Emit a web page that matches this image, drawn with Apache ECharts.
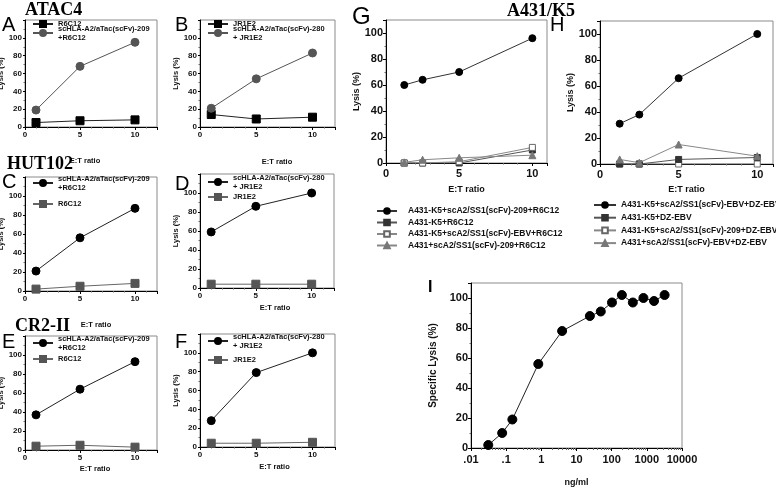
<!DOCTYPE html>
<html><head><meta charset="utf-8">
<script src="https://cdn.jsdelivr.net/npm/echarts@6/dist/echarts.min.js"></script>
<style>html,body{margin:0;padding:0;background:#fff}#c{width:776px;height:490px}</style>
</head><body><div id="c"></div>
<script>
// ---- data ----
const etX = [1, 5, 10];
const A_R6C12 = [5, 7, 8];
const A_209 = [19, 68, 95];
const B_JR1E2 = [14, 9, 11];
const B_280 = [21, 54, 83];
const C_209 = [21, 56, 87];
const C_R6C12 = [2, 5, 8];
const D_280 = [59, 86, 100];
const D_JR1E2 = [4, 4, 4];
const E_209 = [37, 64, 93];
const E_R6C12 = [4, 5, 3];
const F_280 = [28, 79, 100];
const F_JR1E2 = [4, 4, 5];
const ghX = [1.25, 2.5, 5, 10];
const G_209R = [60, 64, 70, 96];
const G_K5R = [0, 0, 0, 10];
const G_EBVR = [0, 0, 1, 12];
const G_A431 = [0.5, 2.5, 4, 6];
const H_EBVDZ = [31, 38, 66, 100];
const H_K5DZ = [0, 0, 3.5, 5];
const H_209DZ = [0, 0, 0, 0];
const H_A431 = [3.5, 1, 15, 6];
const iDose = [0.031, 0.077, 0.15, 0.82, 3.9, 24, 49, 102, 195, 400, 800, 1600, 3200];
const iLysis = [2, 10, 19, 56, 78, 88, 91, 97, 102, 97, 100, 98, 102];
const titles = ['ATAC4', 'HUT102', 'CR2-II', 'A431/K5'];
const panelLetters = ['A', 'B', 'C', 'D', 'E', 'F', 'G', 'H', 'I'];
const yTicksEt = [0, 20, 40, 60, 80, 100];
const xTicksEt = [0, 5, 10];

const SANS = 'Liberation Sans, Arial, sans-serif';
const SERIF = 'Liberation Serif, Times New Roman, serif';
const pairs = (xs, ys) => xs.map((x, i) => [x, ys[i]]);

const grids = [
  {left: 25, top: 20, width: 132, height: 107},
  {left: 200, top: 20, width: 135, height: 107},
  {left: 25, top: 177, width: 132, height: 114},
  {left: 200, top: 174, width: 134, height: 114},
  {left: 25, top: 336, width: 132, height: 114},
  {left: 200, top: 334, width: 135, height: 113},
  {left: 386, top: 20, width: 161, height: 143},
  {left: 600, top: 21, width: 173, height: 143},
  {left: 471, top: 283, width: 211, height: 165}
].map(g => Object.assign({show: true, borderColor: '#8a8a8a', borderWidth: 1, containLabel: false, outerBoundsMode: 'none'}, g));

const axisLine = {show: true, lineStyle: {color: '#000', width: 1}};
function xEt(gi, gap, padL, padR) {
  return {gridIndex: gi, type: 'value', min: 0, max: 12, interval: 5,
    name: 'E:T ratio', nameLocation: 'middle', nameGap: gap,
    nameTextStyle: {fontFamily: SANS, fontWeight: 'bold', fontSize: 7.5, color: '#111', padding: [0, padR || 0, 0, padL || 0]},
    axisLine, axisTick: {show: true, length: 3, lineStyle: {color: '#000'}},
    minorTick: {show: true, splitNumber: 5, length: 1.5, lineStyle: {color: '#666'}},
    splitLine: {show: false},
    axisLabel: {fontFamily: SANS, fontWeight: 'bold', fontSize: 8, color: '#111', margin: 4,
      formatter: v => (xTicksEt.indexOf(v) >= 0 ? String(v) : '')}};
}
function yEt(gi, gap) {
  return {gridIndex: gi, type: 'value', min: 0, max: 120, interval: 20,
    name: 'Lysis (%)', nameLocation: 'middle', nameGap: gap,
    nameTextStyle: {fontFamily: SANS, fontWeight: 'bold', fontSize: 7.5, color: '#111'},
    axisLine, axisTick: {show: true, length: 2, lineStyle: {color: '#000'}},
    minorTick: {show: true, splitNumber: 2, length: 1.5, lineStyle: {color: '#666'}},
    splitLine: {show: false},
    axisLabel: {fontFamily: SANS, fontWeight: 'bold', fontSize: 8, color: '#111', margin: 3,
      formatter: v => (yTicksEt.indexOf(v) >= 0 ? String(v) : '')}};
}
function xGH(gi, gap) {
  return {gridIndex: gi, type: 'value', min: 0, max: 11, interval: 5,
    name: 'E:T ratio', nameLocation: 'middle', nameGap: gap,
    nameTextStyle: {fontFamily: SANS, fontWeight: 'bold', fontSize: 9, color: '#111'},
    axisLine, axisTick: {show: true, length: 3, lineStyle: {color: '#000'}},
    minorTick: {show: true, splitNumber: 5, length: 1.5, lineStyle: {color: '#666'}},
    splitLine: {show: false},
    axisLabel: {fontFamily: SANS, fontWeight: 'bold', fontSize: 11, color: '#111', margin: 5,
      formatter: v => (xTicksEt.indexOf(v) >= 0 ? String(v) : '')}};
}
function yGH(gi, gap, name) {
  return {gridIndex: gi, type: 'value', min: 0, max: 110, interval: 20,
    name: name, nameLocation: 'middle', nameGap: gap,
    nameTextStyle: {fontFamily: SANS, fontWeight: 'bold', fontSize: name.length > 10 ? 10 : 9, color: '#111'},
    axisLine, axisTick: {show: true, length: 3, lineStyle: {color: '#000'}},
    minorTick: {show: true, splitNumber: 2, length: 1.5, lineStyle: {color: '#666'}},
    splitLine: {show: false},
    axisLabel: {fontFamily: SANS, fontWeight: 'bold', fontSize: 11, color: '#111', margin: 3,
      formatter: v => (yTicksEt.indexOf(v) >= 0 ? String(v) : '')}};
}
const logLabel = v => { const e = Math.round(Math.log10(v)); return e < 0 ? '.' + '0'.repeat(-e - 1) + '1' : String(Math.round(Math.pow(10, e))); };

const xAxes = [xEt(0, 30, 0, 12), xEt(1, 31, 19, 0), xEt(2, 30, 10, 0), xEt(3, 16, 16, 0), xEt(4, 15, 8, 0), xEt(5, 16, 14, 0),
  xGH(6, 22), xGH(7, 21),
  {gridIndex: 8, type: 'log', logBase: 10, min: 0.01, max: 10000,
    name: 'ng/ml', nameLocation: 'middle', nameGap: 30,
    nameTextStyle: {fontFamily: SANS, fontWeight: 'bold', fontSize: 9, color: '#111'},
    axisLine, axisTick: {show: true, length: 3, lineStyle: {color: '#000'}},
    minorTick: {show: true, splitNumber: 9, length: 2, lineStyle: {color: '#666'}},
    splitLine: {show: false},
    axisLabel: {fontFamily: SANS, fontWeight: 'bold', fontSize: 11, color: '#111', margin: 6, formatter: logLabel}}];
const yAxes = [yEt(0, 13), yEt(1, 11), yEt(2, 14), yEt(3, 11), yEt(4, 13), yEt(5, 11),
  yGH(6, 17, 'Lysis (%)'), yGH(7, 22, 'Lysis (%)'), yGH(8, 33, 'Specific Lysis (%)')];

function ser(name, gi, xs, ys, symbol, size, fill, line, border, z) {
  return {type: 'line', name, xAxisIndex: gi, yAxisIndex: gi, data: pairs(xs, ys),
    symbol, symbolSize: size, showSymbol: true, animation: false, z: z || 2,
    itemStyle: {color: fill, borderColor: border || fill, borderWidth: 1, opacity: 1},
    lineStyle: {color: line, width: 1}};
}
const BLK = '#000', DG = '#555', LG = '#777';
const series = [
  ser('A|R6C12', 0, etX, A_R6C12, 'rect', 8, BLK, '#222'),
  ser('A|scHLA-A2/aTac(scFv)-209\n+R6C12', 0, etX, A_209, 'circle', 8, DG, '#555', DG, 3),
  ser('B|JR1E2', 1, etX, B_JR1E2, 'rect', 8, BLK, '#222'),
  ser('B|scHLA-A2/aTac(scFv)-280\n+ JR1E2', 1, etX, B_280, 'circle', 8, DG, '#555', DG, 3),
  ser('C|scHLA-A2/aTac(scFv)-209\n+R6C12', 2, etX, C_209, 'circle', 8, BLK, '#222', BLK, 3),
  ser('C|R6C12', 2, etX, C_R6C12, 'rect', 8, DG, '#666'),
  ser('D|scHLA-A2/aTac(scFv)-280\n+ JR1E2', 3, etX, D_280, 'circle', 8, BLK, '#222', BLK, 3),
  ser('D|JR1E2', 3, etX, D_JR1E2, 'rect', 8, DG, '#666'),
  ser('E|scHLA-A2/aTac(scFv)-209\n+R6C12', 4, etX, E_209, 'circle', 8, BLK, '#222', BLK, 3),
  ser('E|R6C12', 4, etX, E_R6C12, 'rect', 8, DG, '#666'),
  ser('F|scHLA-A2/aTac(scFv)-280\n+ JR1E2', 5, etX, F_280, 'circle', 8, BLK, '#222', BLK, 3),
  ser('F|JR1E2', 5, etX, F_JR1E2, 'rect', 8, DG, '#666'),
  ser('G|A431-K5+scA2/SS1(scFv)-209+R6C12', 6, ghX, G_209R, 'circle', 7, BLK, '#333', BLK, 5),
  ser('G|A431-K5+R6C12', 6, ghX, G_K5R, 'rect', 6, '#333', '#555', '#333', 2),
  ser('G|A431-K5+scA2/SS1(scFv)-EBV+R6C12', 6, ghX, G_EBVR, 'rect', 6, '#fff', '#888', '#666', 3),
  ser('G|A431+scA2/SS1(scFv)-209+R6C12', 6, ghX, G_A431, 'triangle', 7, LG, '#888', LG, 4),
  ser('H|A431-K5+scA2/SS1(scFv)-EBV+DZ-EBV', 7, ghX, H_EBVDZ, 'circle', 7, BLK, '#333', BLK, 5),
  ser('H|A431-K5+DZ-EBV', 7, ghX, H_K5DZ, 'rect', 6, '#333', '#555', '#333', 3),
  ser('H|A431-K5+scA2/SS1(scFv)-209+DZ-EBV', 7, ghX, H_209DZ, 'rect', 6, '#fff', '#888', '#666', 2),
  ser('H|A431+scA2/SS1(scFv)-EBV+DZ-EBV', 7, ghX, H_A431, 'triangle', 7, LG, '#888', LG, 4),
  ser('I|Specific Lysis', 8, iDose, iLysis, 'circle', 9, BLK, '#222', BLK, 3)
];

const stripName = n => n.slice(n.indexOf('|') + 1);
function leg1(name, left, cy, multi) {
  return {show: true, data: [name], left, top: multi ? cy - 13.5 : cy - 4.5, padding: 0,
    itemWidth: 20, itemHeight: 7.5, selectedMode: false, formatter: stripName,
    textStyle: {fontFamily: SANS, fontWeight: 'bold', fontSize: 7.5, lineHeight: 9, color: '#111',
      padding: multi ? [9, 0, 0, 0] : 0}};
}
const legends = [
  leg1(series[0].name, 32, 24, false), leg1(series[1].name, 32, 33, true),
  leg1(series[2].name, 207, 24, false), leg1(series[3].name, 207, 33, true),
  leg1(series[4].name, 32, 183, true), leg1(series[5].name, 32, 204, false),
  leg1(series[6].name, 207, 182, true), leg1(series[7].name, 207, 197, false),
  leg1(series[8].name, 32, 343, true), leg1(series[9].name, 32, 359, false),
  leg1(series[10].name, 207, 341, true), leg1(series[11].name, 207, 360, false),
  {show: true, orient: 'vertical', data: series.slice(12, 16).map(s => s.name), left: 376, top: 206, padding: 0,
    itemWidth: 20, itemHeight: 7, itemGap: 1.5, selectedMode: false, formatter: stripName,
    textStyle: {fontFamily: SANS, fontWeight: 'bold', fontSize: 8.5, lineHeight: 10, color: '#111', padding: [0, 0, 0, 6]}},
  {show: true, orient: 'vertical', data: series.slice(16, 20).map(s => s.name), left: 593, top: 200, padding: 0,
    itemWidth: 22, itemHeight: 7, itemGap: 2.7, selectedMode: false, formatter: stripName,
    textStyle: {fontFamily: SANS, fontWeight: 'bold', fontSize: 8.5, lineHeight: 10, color: '#111'}}
];

const T = (text, left, top, font) => ({type: 'text', left, top, z: 10, style: {text, font, fill: '#000'}});
const graphic = [
  T(titles[0], 25, 1, 'bold 18px ' + SERIF),
  T(titles[1], 7, 155, 'bold 18px ' + SERIF),
  T(titles[2], 15, 317, 'bold 18px ' + SERIF),
  T(titles[3], 507, 2, 'bold 18px ' + SERIF),
  T(panelLetters[0], 2, 15, '20px ' + SANS),
  T(panelLetters[1], 175, 15, '20px ' + SANS),
  T(panelLetters[2], 2, 172, '20px ' + SANS),
  T(panelLetters[3], 175, 174, '20px ' + SANS),
  T(panelLetters[4], 2, 332, '20px ' + SANS),
  T(panelLetters[5], 175, 332, '20px ' + SANS),
  T(panelLetters[6], 352, 5, '24px ' + SANS),
  T(panelLetters[7], 550, 15, '20px ' + SANS),
  T(panelLetters[8], 428, 280, 'bold 16px ' + SANS)
];

const chart = echarts.init(document.getElementById('c'), null, {renderer: 'canvas'});
chart.setOption({
  animation: false, backgroundColor: '#fff',
  grid: grids, xAxis: xAxes, yAxis: yAxes, series, legend: legends, graphic
});
</script></body></html>
